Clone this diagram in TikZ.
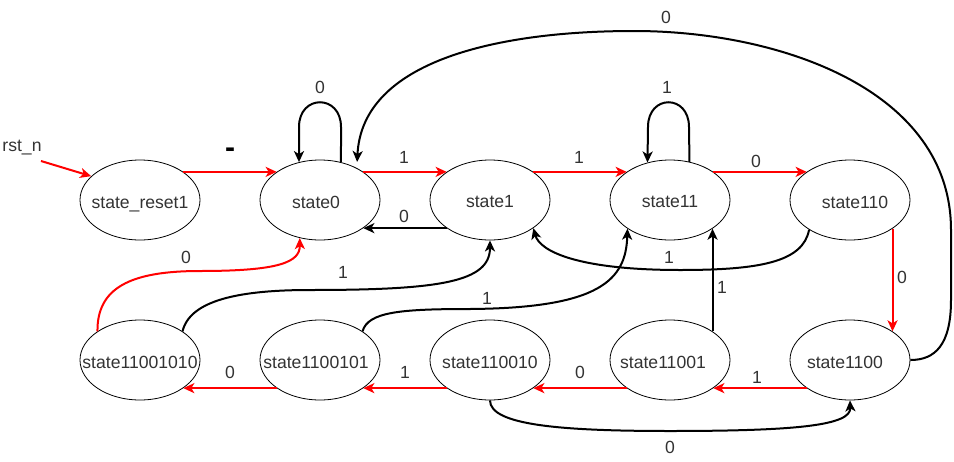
\documentclass[tikz,border=0pt]{standalone}
\usepackage{fontspec}
\setmainfont{Liberation Sans}
\usetikzlibrary{arrows.meta,shapes.geometric}
\definecolor{txt}{HTML}{333333}
\definecolor{fsmred}{HTML}{FF0000}

\begin{document}
\begin{tikzpicture}[x=1pt,y=-1pt,
  state/.style={ellipse,draw=black,line width=0.8pt,fill=white,
    minimum width=120pt,minimum height=80pt,inner sep=0pt},
  lbl/.style={font=\fontsize{17.6}{20}\selectfont,text=txt,inner sep=0pt},
  stlbl/.style={lbl,yshift=-2pt},
  dashlbl/.style={lbl,text=black,font=\fontsize{30}{32}\selectfont\bfseries},
  link/.style={line width=2pt,-{Stealth[length=11pt,width=10pt,inset=3pt]}},
  blk/.style={link,draw=black},
  hot/.style={link,draw=fsmred}]
\useasboundingbox (0,0) rectangle (954,461);

% upper row of states
\node[state,label={[stlbl,yshift=-2pt]center:state\_reset1}] (sr) at (140,200) {};
\node[state,label={[stlbl,xshift=-4pt]center:state0}] (s0) at (320,200) {};
\node[state,label={[stlbl]center:state1}] (s1) at (490,200) {};
\node[state,label={[stlbl]center:state11}] (s11) at (670,200) {};
\node[state,label={[stlbl,xshift=5pt]center:state110}] (s110) at (850,200) {};

% lower row of states
\node[state,label={[stlbl]center:state11001010}] (s11001010) at (140,360) {};
\node[state,label={[stlbl,xshift=-4pt]center:state1100101}] (s1100101) at (320,360) {};
\node[state,label={[stlbl]center:state110010}] (s110010) at (490,360) {};
\node[state,label={[stlbl,xshift=-7pt]center:state11001}] (s11001) at (670,360) {};
\node[state,label={[stlbl,xshift=-5pt]center:state1100}] (s1100) at (850,360) {};

% reset input
\node[lbl] (rst) at (22,148) {rst\_n};
\coordinate (rstin) at (41,161);
\draw[hot] (rstin) -- (sr.154);

% upper row transitions
\draw[hot] (sr.33) -- (s0.147) node[dashlbl] at (230,153) {-};
\draw[blk] (s0.61) -- (341,127) .. controls (341,94) and (299,94) .. (299,127) -- (s0.119)
  node[lbl] at (320,87) {0};
\draw[hot] (s0.33) -- (s1.147) node[lbl] at (404,157) {1};
\draw[blk] (s1.213) -- (s0.327) node[lbl] at (404,216) {0};
\draw[hot] (s1.33) -- (s11.147) node[lbl] at (579,157) {1};
\draw[blk] (s11.63) -- (689,127) .. controls (689,94) and (648,94) .. (648,127) -- (s11.121)
  node[lbl] at (667,87) {1};
\draw[hot] (s11.33) -- (s110.147) node[lbl] at (756,161) {0};
\draw[blk] (s110.216) .. controls (803,262) and (760,270) .. (680,270)
  .. controls (580,270) and (540,252) .. (s1.327) node[lbl] at (669,257) {1};
\draw[hot] (s110.326) -- (s1100.34) node[lbl] at (902,277) {0};

% long return from state1100 to state0
\draw[blk,shorten >=6pt] (s1100.east) .. controls (935,360) and (951,345) .. (951,300)
  -- (951,230) .. controls (951,90) and (780,31) .. (634,31)
  .. controls (500,31) and (362,60) .. (s0.41) node[lbl] at (666,17) {0};

% lower row transitions
\draw[hot] (s1100.213) -- (s11001.327) node[lbl] at (757,377) {1};
\draw[blk] (s11001.34) -- (s11.326) node[lbl] at (722,287) {1};
\draw[hot] (s11001.213) -- (s110010.327) node[lbl] at (580,372) {0};
\draw[blk] (s110010.south) .. controls (490,425) and (560,431) .. (670,431)
  .. controls (800,431) and (851,425) .. (s1100.south) node[lbl] at (670,447) {0};
\draw[hot] (s110010.213) -- (s1100101.327) node[lbl] at (405,372) {1};
\draw[hot] (s1100101.213) -- (s11001010.327) node[lbl] at (230,372) {0};
\draw[blk] (s1100101.34) .. controls (368,312) and (400,309) .. (470,309)
  .. controls (600,308) and (626,280) .. (s11.214) node[lbl] at (487,298) {1};
\draw[blk] (s11001010.34) .. controls (190,300) and (240,290) .. (310,290)
  .. controls (440,290) and (490,282) .. (s1.south) node[lbl] at (343,272) {1};
\draw[hot] (s11001010.146) .. controls (97,288) and (130,271) .. (200,271)
  .. controls (280,271) and (300,262) .. (s0.242) node[lbl] at (186,257) {0};
\end{tikzpicture}
\end{document}
